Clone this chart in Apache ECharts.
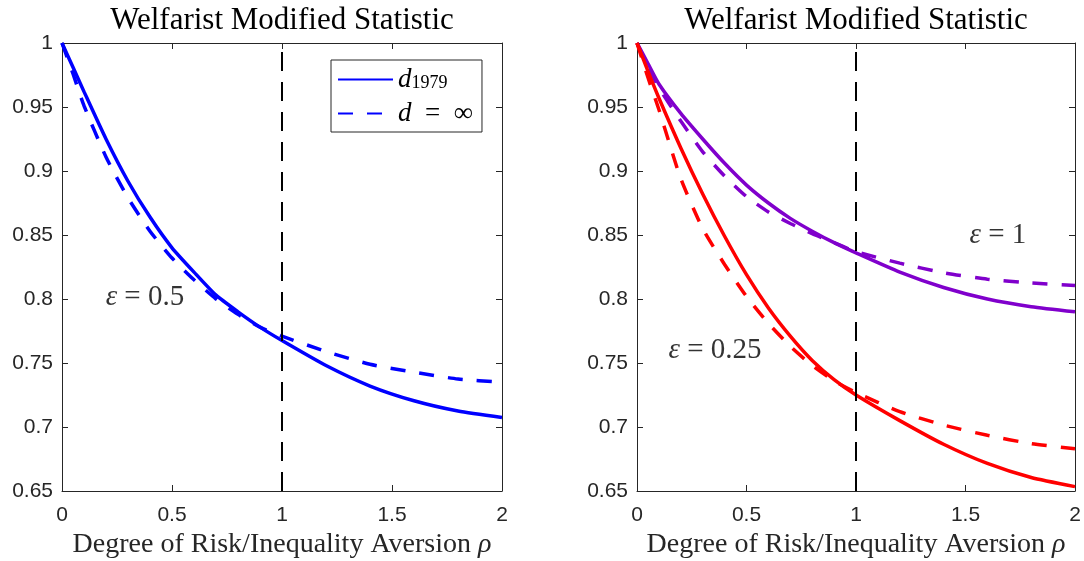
<!DOCTYPE html>
<html>
<head>
<meta charset="UTF-8">
<title>Welfarist Modified Statistic</title>
<script src="https://cdn.jsdelivr.net/npm/echarts@6/dist/echarts.min.js"></script>
</head>
<body style="margin:0;background:#fff">
<div id="main" style="width:1084px;height:561px"></div>
<script>
// risk / inequality aversion grid
var rho = [0, 0.05, 0.1, 0.2, 0.3, 0.4, 0.5, 0.6, 0.7, 0.8, 0.9, 1.0, 1.2, 1.4, 1.6, 1.8, 2.0];

// left panel, epsilon = 0.5
var eps050_d1979 = [1, 0.981, 0.962, 0.925, 0.892, 0.864, 0.840, 0.821, 0.803, 0.790, 0.778, 0.7675, 0.748, 0.732, 0.7205, 0.7125, 0.7075];
var eps050_dInf  = [1, 0.976, 0.951, 0.911, 0.879, 0.853, 0.832, 0.815, 0.800, 0.788, 0.778, 0.771, 0.759, 0.749, 0.7428, 0.7375, 0.735];

// right panel, epsilon = 1 and epsilon = 0.25
var eps100_d1979 = [1, 0.984, 0.968, 0.945, 0.925, 0.906, 0.889, 0.875, 0.863, 0.853, 0.844, 0.836, 0.821, 0.809, 0.800, 0.794, 0.790];
var eps100_dInf  = [1, 0.982, 0.965, 0.939, 0.915, 0.896, 0.880, 0.868, 0.859, 0.851, 0.844, 0.837, 0.828, 0.8205, 0.8155, 0.8125, 0.8105];
var eps025_d1979 = [1, 0.978, 0.957, 0.918, 0.882, 0.849, 0.819, 0.793, 0.771, 0.752, 0.737, 0.725, 0.705, 0.6865, 0.6715, 0.6605, 0.6534];
var eps025_dInf  = [1, 0.973, 0.948, 0.894, 0.855, 0.827, 0.802, 0.781, 0.763, 0.748, 0.736, 0.727, 0.712, 0.7015, 0.6935, 0.687, 0.683];

var refRho = 1;
var xTicks = {min: 0, max: 2, interval: 0.5};
var yTicks = {min: 0.65, max: 1, interval: 0.05};

// where the epsilon notes sit, in data units
var noteLeft = [0.377, 0.801];
var noteRight1 = [1.648, 0.850];
var noteRight025 = [0.356, 0.760];

var axisColor = '#262626';
var serif = 'Liberation Serif';
var sans = 'Liberation Sans';

function xAx(grid, pos) {
    var bottom = pos === 'bottom';
    return {
        type: 'value', gridIndex: grid, position: pos,
        min: xTicks.min, max: xTicks.max, interval: xTicks.interval,
        axisLine: {show: true, onZero: false, lineStyle: {color: axisColor, width: 1}},
        axisTick: {show: true, inside: true, length: 6, lineStyle: {color: axisColor}},
        axisLabel: {show: bottom, color: axisColor, fontFamily: sans, fontSize: 21, margin: 14},
        splitLine: {show: false},
        name: bottom ? 'Degree of Risk/Inequality Aversion {i|ρ}' : '',
        nameLocation: 'middle', nameGap: 40,
        nameTextStyle: {
            color: axisColor, fontFamily: serif, fontSize: 28,
            rich: {i: {fontFamily: serif, fontSize: 28, fontStyle: 'italic', color: axisColor}}
        }
    };
}

function yAx(grid, pos) {
    return {
        type: 'value', gridIndex: grid, position: pos,
        min: yTicks.min, max: yTicks.max, interval: yTicks.interval,
        axisLine: {show: true, onZero: false, lineStyle: {color: axisColor, width: 1}},
        axisTick: {show: true, inside: true, length: 6, lineStyle: {color: axisColor}},
        axisLabel: {show: pos === 'left', color: axisColor, fontFamily: sans, fontSize: 21, margin: 9},
        splitLine: {show: false}
    };
}

function curve(name, xi, yi, ys, color, dashed) {
    return {
        name: name, type: 'line', xAxisIndex: xi, yAxisIndex: yi,
        data: rho.map(function (r, i) { return [r, ys[i]]; }),
        symbol: 'none', showSymbol: false,
        smooth: 0.2,
        lineStyle: {color: color, width: 3.5, type: dashed ? [15, 14] : 'solid', cap: 'butt'},
        itemStyle: {color: color},
        silent: true, z: 3
    };
}

function refLine(s) {
    s.markLine = {
        silent: true, symbol: 'none', label: {show: false},
        lineStyle: {color: '#000', width: 2, type: [19, 11]},
        data: [{xAxis: refRho}]
    };
    return s;
}

function note(xi, yi, pt, txt) {
    return {
        type: 'scatter', xAxisIndex: xi, yAxisIndex: yi, data: [pt],
        symbolSize: 0, silent: true, z: 5,
        label: {
            show: true, position: 'inside', formatter: txt,
            color: '#000', fontFamily: serif, fontSize: 29,
            rich: {e: {fontFamily: serif, fontSize: 29, fontStyle: 'italic', color: '#000'}}
        }
    };
}

var titleStyle = {fontFamily: serif, fontSize: 31, fontWeight: 'normal', color: '#000'};

var myChart = echarts.init(document.getElementById('main'));

var option = {
    backgroundColor: '#fff',
    animation: false,
    title: [
        {text: 'Welfarist Modified Statistic', left: 282, top: 5, textAlign: 'center', padding: 0, textStyle: titleStyle},
        {text: 'Welfarist Modified Statistic', left: 856, top: 5, textAlign: 'center', padding: 0, textStyle: titleStyle}
    ],
    grid: [
        {left: 62, right: 582, top: 43, bottom: 70, outerBoundsMode: 'none'},
        {left: 637, right: 9, top: 43, bottom: 70, outerBoundsMode: 'none'}
    ],
    xAxis: [xAx(0, 'bottom'), xAx(0, 'top'), xAx(1, 'bottom'), xAx(1, 'top')],
    yAxis: [yAx(0, 'left'), yAx(0, 'right'), yAx(1, 'left'), yAx(1, 'right')],
    legend: {
        data: ['d1979', 'dinf'],
        orient: 'vertical', left: 331, top: 60,
        padding: [6, 9, 5, 6], itemGap: 7,
        itemWidth: 55, itemHeight: 14,
        borderColor: axisColor, borderWidth: 1, backgroundColor: '#fff',
        itemStyle: {opacity: 0},
        selectedMode: false,
        formatter: function (name) {
            return name === 'd1979' ? '{d|d}{s|1979}' : '{d|d}{t|\u2002=\u2002∞}';
        },
        textStyle: {
            color: '#000', fontFamily: serif, fontSize: 27,
            rich: {
                d: {fontFamily: serif, fontStyle: 'italic', fontSize: 27, lineHeight: 26, color: '#000'},
                s: {fontFamily: serif, fontSize: 18, lineHeight: 26, verticalAlign: 'bottom', color: '#000'},
                t: {fontFamily: serif, fontSize: 27, lineHeight: 26, color: '#000'}
            }
        }
    },
    series: [
        refLine(curve('d1979', 0, 0, eps050_d1979, '#0000ff', false)),
        curve('dinf', 0, 0, eps050_dInf, '#0000ff', true),
        refLine(curve('e1_d1979', 2, 2, eps100_d1979, '#8000cc', false)),
        curve('e1_dinf', 2, 2, eps100_dInf, '#8000cc', true),
        curve('e025_d1979', 2, 2, eps025_d1979, '#ff0000', false),
        curve('e025_dinf', 2, 2, eps025_dInf, '#ff0000', true),
        note(0, 0, noteLeft, '{e|ε} = 0.5'),
        note(2, 2, noteRight1, '{e|ε} = 1'),
        note(2, 2, noteRight025, '{e|ε} = 0.25')
    ]
};

myChart.setOption(option);
</script>
</body>
</html>
